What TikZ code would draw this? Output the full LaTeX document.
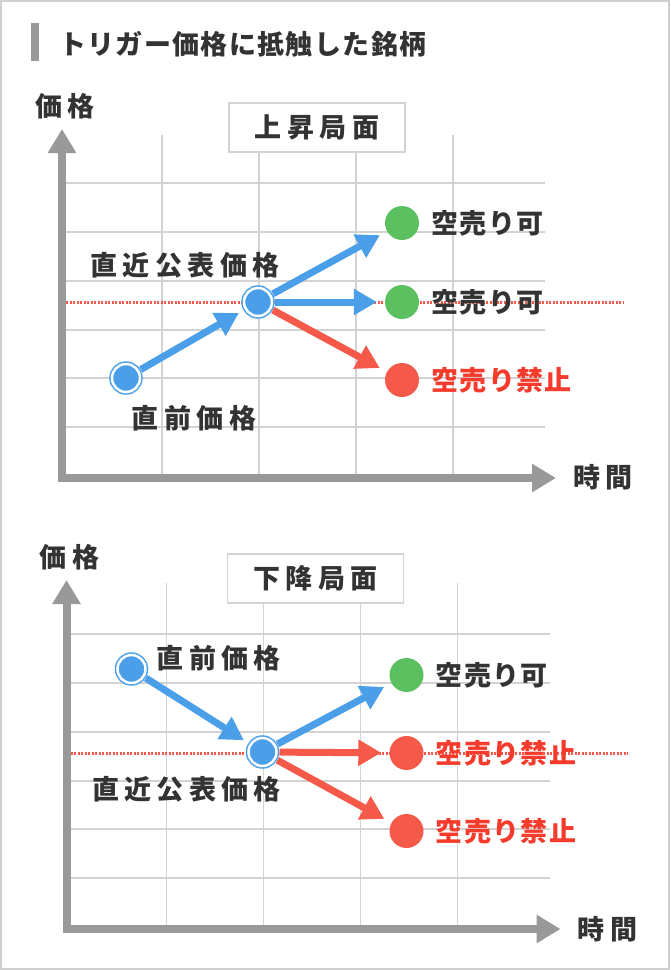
\documentclass[tikz,border=0pt]{standalone}
\usepackage{fontspec}
\setmainfont{Noto Sans CJK JP}
\newfontfamily\jptight{Noto Sans CJK JP}[LetterSpace=5]
\newfontfamily\jpwide{Noto Sans CJK JP}[LetterSpace=20]
\usetikzlibrary{arrows.meta,positioning}
\definecolor{ptblue}{HTML}{4A9FE8}
\definecolor{okgreen}{HTML}{5CBF60}
\definecolor{ngred}{HTML}{F4594A}
\definecolor{ngtext}{HTML}{F43B2C}
\definecolor{ink}{HTML}{333333}
\definecolor{axisgray}{HTML}{999999}
\definecolor{gridgray}{HTML}{D3D3D3}
\definecolor{framegray}{HTML}{CFCFCF}

\tikzset{
  gridline/.style={draw=gridgray, line width=1.5pt},
  axisline/.style={draw=axisgray, line width=8pt,
    {Triangle[length=24pt,width=27pt]}-{Triangle[length=24pt,width=27pt]}},
  trigline/.style={draw=ngred, line width=3pt, dash pattern=on 2pt off 1.5pt},
  phasebox/.style={draw=gridgray, fill=white, line width=1.2pt,
    minimum width=176pt, minimum height=49pt, text=ink,
    font=\jpwide\bfseries\fontsize{27}{30}\selectfont},
  lbl/.style={font=\jpwide\bfseries\fontsize{27}{30}\selectfont, text=ink, inner sep=0pt},
  dotlbl/.style={font=\jptight\bfseries\fontsize{27}{30}\selectfont, text=ink, inner sep=0pt},
  pricept/.style={circle, draw=ptblue, double=white, double distance=2.5pt,
    line width=1.5pt, fill=ptblue, minimum size=28pt, inner sep=0pt, outer sep=3pt},
  okdot/.style={circle, fill=okgreen, minimum size=34pt, inner sep=0pt},
  ngdot/.style={circle, fill=ngred, minimum size=34pt, inner sep=0pt},
  bluearr/.style={draw=ptblue, line width=7pt, -{Triangle[length=23pt,width=25pt]}, shorten >=8pt},
  redarr/.style={bluearr, draw=ngred},
}

\begin{document}
\begin{tikzpicture}[x=1pt, y=-1pt]
  \useasboundingbox (0,0) rectangle (670,970);
  \draw[framegray, line width=2pt] (1,1) rectangle (669,969);

  % title
  \fill[axisgray] (31,23) rectangle (39,61);
  \node[dotlbl, anchor=west] (title) at (59,44) {トリガー価格に抵触した銘柄};

  % rising phase
  \begin{scope}
    \foreach \gx in {162,259,356,453}
      \draw[gridline] (\gx,135) -- (\gx,478);
    \foreach \gy in {183,232,281,330,378,427}
      \draw[gridline] (62,\gy) -- (545,\gy);
    \draw[trigline] (66,302) -- (623,302);
    \draw[axisline] (62,129) -- (62,478) -- (556,478);
    \node[phasebox] (upbox) at (317,127.5) {上昇局面};
    \node[lbl] (priceA) at (65,106) {価格};
    \node[lbl] (timeA) at (603,477) {時間};

    \node[pricept] (prevA) at (126,378) {};
    \node[pricept] (nowA) at (258,302) {};
    \node[okdot] (hiA) at (402,223) {};
    \node[okdot] (flatA) at (402,302) {};
    \node[ngdot] (lowA) at (402,380) {};

    \node[lbl] (nowlblA) at (185,265) {直近公表価格};
    \node[lbl] (prevlblA) at (194,418) {直前価格};
    \node[dotlbl, right=12pt of hiA] (hitxtA) {空売り可};
    \node[dotlbl, right=12pt of flatA] (flattxtA) {空売り可};
    \node[dotlbl, text=ngtext, right=12pt of lowA] (lowtxtA) {空売り禁止};

    \draw[bluearr, shorten >=5pt] (prevA) -- (nowA);
    \draw[bluearr] (nowA) -- (hiA);
    \draw[bluearr] (nowA) -- (flatA);
    \draw[redarr] (nowA) -- (lowA);
  \end{scope}

  % falling phase
  \begin{scope}[shift={(4.5,451)}]
    \foreach \gx in {162,259,356,453}
      \draw[gridline] (\gx,132) -- (\gx,478);
    \foreach \gy in {183,232,281,330,378,427}
      \draw[gridline] (62,\gy) -- (545,\gy);
    \draw[trigline] (66,302) -- (623,302);
    \draw[axisline] (62,129) -- (62,478) -- (556,478);
    \node[phasebox] (downbox) at (311,127.5) {下降局面};
    \node[lbl] (priceB) at (65,106) {価格};
    \node[lbl] (timeB) at (603,478) {時間};

    \node[pricept] (prevB) at (127,218) {};
    \node[pricept] (nowB) at (258,301) {};
    \node[okdot] (hiB) at (402,224) {};
    \node[ngdot] (flatB) at (402,302) {};
    \node[ngdot] (lowB) at (402,380) {};

    \node[lbl, anchor=west] (prevlblB) at (152,207) {直前価格};
    \node[lbl] (nowlblB) at (182,338) {直近公表価格};
    \node[dotlbl, right=12pt of hiB] (hitxtB) {空売り可};
    \node[dotlbl, text=ngtext, right=12pt of flatB] (flattxtB) {空売り禁止};
    \node[dotlbl, text=ngtext, right=12pt of lowB] (lowtxtB) {空売り禁止};

    \draw[bluearr, shorten >=5pt] (prevB) -- (nowB);
    \draw[bluearr] (nowB) -- (hiB);
    \draw[redarr] (nowB) -- (flatB);
    \draw[redarr] (nowB) -- (lowB);
  \end{scope}
\end{tikzpicture}
\end{document}
